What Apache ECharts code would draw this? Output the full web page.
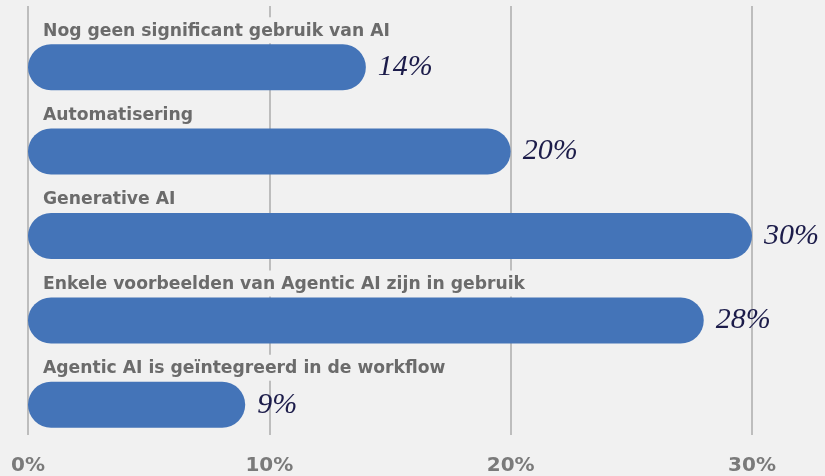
<!DOCTYPE html>
<html>
<head>
<meta charset="utf-8">
<script src="https://cdn.jsdelivr.net/npm/echarts@6/dist/echarts.min.js"></script>
<style>
html,body{margin:0;padding:0;background:#f1f1f1;}
#chart{width:825px;height:476px;}
</style>
</head>
<body>
<div id="chart"></div>
<script>
const categories = [
  "Nog geen significant gebruik van AI",
  "Automatisering",
  "Generative AI",
  "Enkele voorbeelden van Agentic AI zijn in gebruik",
  "Agentic AI is geïntegreerd in de workflow"
];
const values = [14, 20, 30, 28, 9];
const axisMax = 30;
const axisStep = 10;

const chart = echarts.init(document.getElementById('chart'), null, {renderer: 'canvas'});
const BG = '#f1f1f1';
const option = {
  backgroundColor: BG,
  animation: false,
  grid: [
    {left: 28, right: 73, top: 6, bottom: 41},
    {left: 28, right: 73, top: 25, height: 422}
  ],
  xAxis: [
    {
      gridIndex: 0, type: 'value', min: 0, max: axisMax, interval: axisStep,
      axisLine: {show: false}, axisTick: {show: false},
      splitLine: {show: true, lineStyle: {color: '#ababab', width: 1.5}},
      axisLabel: {
        formatter: '{value}%', margin: 31, verticalAlign: 'middle',
        fontFamily: 'DejaVu Sans', fontWeight: 'bold', fontSize: 20, color: '#7a7a7a'
      }
    },
    {
      gridIndex: 1, type: 'value', min: 0, max: axisMax,
      axisLine: {show: false}, axisTick: {show: false},
      splitLine: {show: false}, axisLabel: {show: false}
    }
  ],
  yAxis: [
    {gridIndex: 0, type: 'category', data: categories, show: false},
    {gridIndex: 1, type: 'category', data: categories, inverse: true, show: false}
  ],
  series: [
    {
      type: 'bar', xAxisIndex: 1, yAxisIndex: 1, data: values,
      barWidth: 46,
      itemStyle: {color: '#4474b8', borderRadius: 23},
      label: {
        show: true, position: 'right', distance: 12,
        formatter: '{c}%',
        fontFamily: 'Liberation Serif', fontStyle: 'italic', fontSize: 30,
        color: '#1c1c4a'
      },
      z: 2
    },
    {
      type: 'bar', xAxisIndex: 1, yAxisIndex: 1, data: values,
      barWidth: 46, barGap: '-100%',
      itemStyle: {color: 'rgba(0,0,0,0)'},
      label: {
        show: true, position: [8, -27],
        formatter: p => p.name,
        align: 'left', verticalAlign: 'top',
        fontFamily: 'DejaVu Sans', fontWeight: 'bold', fontSize: 17.2,
        lineHeight: 18,
        color: '#6b6b6b',
        backgroundColor: BG,
        padding: [5, 7, 3, 7]
      },
      silent: true,
      z: 3
    }
  ]
};
chart.setOption(option);
</script>
</body>
</html>
